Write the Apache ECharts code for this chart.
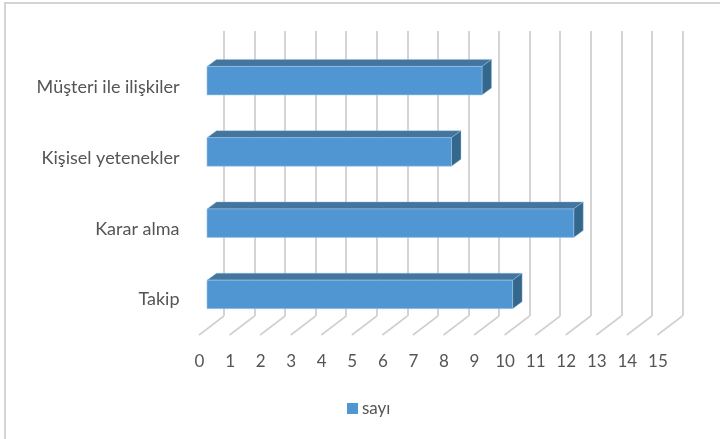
<!DOCTYPE html>
<html>
<head>
<meta charset="utf-8">
<style>html,body{margin:0;padding:0;background:#fff}#main{width:720px;height:439px}</style>
<script src="https://cdn.jsdelivr.net/npm/echarts@6/dist/echarts.min.js"></script>
</head>
<body>
<div id="main"></div>
<script>
const categories = ['Müşteri ile ilişkiler', 'Kişisel yetenekler', 'Karar alma', 'Takip'];
const values = [9, 8, 12, 10];
const ticks = [0, 1, 2, 3, 4, 5, 6, 7, 8, 9, 10, 11, 12, 13, 14, 15];
const seriesName = 'sayı';

const FONT = 'Lato';
const TEXT = '#555555';
const LINE = '#d0d0d0';
const FRONT = '#4f96d2';
const TOP = '#44759f';
const SIDE = '#34678c';
const EDGE = '#9cc4e6';

const DEPTH_X = 9.5, DEPTH_Y = 7, BAR_RATIO = 0.4;
const FLOOR_X = 25, FLOOR_Y = 19;

const valueAxis = (gridIndex, extra) => Object.assign({
  type: 'value', gridIndex, min: 0, max: 15, interval: 1,
  axisLine: { show: false }, axisTick: { show: false },
  axisLabel: { show: false }, splitLine: { show: false }
}, extra);
const catAxis = (gridIndex, extra) => Object.assign({
  type: 'category', gridIndex, data: categories, inverse: true,
  axisLine: { show: false }, axisTick: { show: false },
  axisLabel: { show: false }, splitLine: { show: false }
}, extra);

const chart = echarts.init(document.getElementById('main'), null, { renderer: 'canvas' });
chart.setOption({
  animation: false,
  backgroundColor: '#fff',
  textStyle: { fontFamily: FONT },
  graphic: [{
    type: 'polyline', silent: true,
    shape: { points: [[5, 439], [5, 3], [720, 3]] },
    style: { stroke: '#d4d4d4', lineWidth: 2, fill: null }
  }],
  legend: {
    left: 342, top: 395, icon: 'rect', itemWidth: 11, itemHeight: 11,
    itemGap: 5, data: [seriesName],
    textStyle: { fontFamily: FONT, fontSize: 17, color: TEXT, padding: [0, 0, 0, -1] }
  },
  grid: [
    { left: 224, top: 31, width: 458.4, height: 285 },   // back wall
    { left: 199.5, top: 52, width: 458.4, height: 283 }, // front floor, labels
    { left: 207, top: 45, width: 458.4, height: 285 }    // bars
  ],
  xAxis: [
    valueAxis(0, { splitLine: { show: true, lineStyle: { color: LINE, width: 1.8 } } }),
    valueAxis(1, { axisLabel: { show: true, fontFamily: FONT, fontSize: 17, color: TEXT, margin: 18 } }),
    valueAxis(2)
  ],
  yAxis: [
    catAxis(0),
    catAxis(1, { axisLabel: { show: true, fontFamily: FONT, fontSize: 18, color: TEXT, margin: 20 } }),
    catAxis(2)
  ],
  series: [
    {
      type: 'custom', name: 'floor', xAxisIndex: 0, yAxisIndex: 0, silent: true, clip: false, z: 1,
      data: ticks.map(t => [t]),
      encode: { x: 0 },
      renderItem(params, api) {
        const x = api.coord([api.value(0), 0])[0];
        const y = params.coordSys.y + params.coordSys.height;
        return {
          type: 'line',
          shape: { x1: x, y1: y, x2: x - FLOOR_X, y2: y + FLOOR_Y },
          style: { stroke: LINE, lineWidth: 1.6, fill: null }
        };
      }
    },
    {
      type: 'custom', name: seriesName, xAxisIndex: 2, yAxisIndex: 2, silent: true, clip: false, z: 3,
      itemStyle: { color: FRONT },
      data: values.map((v, i) => [v, categories[i]]),
      encode: { x: 0, y: 1 },
      renderItem(params, api) {
        const end = api.coord([api.value(0), params.dataIndex]);
        const start = api.coord([0, params.dataIndex]);
        const h = api.size([0, 1])[1] * BAR_RATIO;
        const x0 = start[0], x1 = end[0], y0 = end[1] - h / 2, y1 = end[1] + h / 2;
        return {
          type: 'group',
          children: [
            { type: 'polygon',
              shape: { points: [[x0, y0], [x0 + DEPTH_X, y0 - DEPTH_Y], [x1 + DEPTH_X, y0 - DEPTH_Y], [x1, y0]] },
              style: { fill: TOP, stroke: EDGE, lineWidth: 0.4 } },
            { type: 'polygon',
              shape: { points: [[x1, y0], [x1 + DEPTH_X, y0 - DEPTH_Y], [x1 + DEPTH_X, y1 - DEPTH_Y], [x1, y1]] },
              style: { fill: SIDE, stroke: EDGE, lineWidth: 0.4 } },
            { type: 'rect',
              shape: { x: x0, y: y0, width: x1 - x0, height: y1 - y0 },
              style: { fill: api.visual('color'), stroke: EDGE, lineWidth: 0.6 } }
          ]
        };
      }
    }
  ]
});
</script>
</body>
</html>
